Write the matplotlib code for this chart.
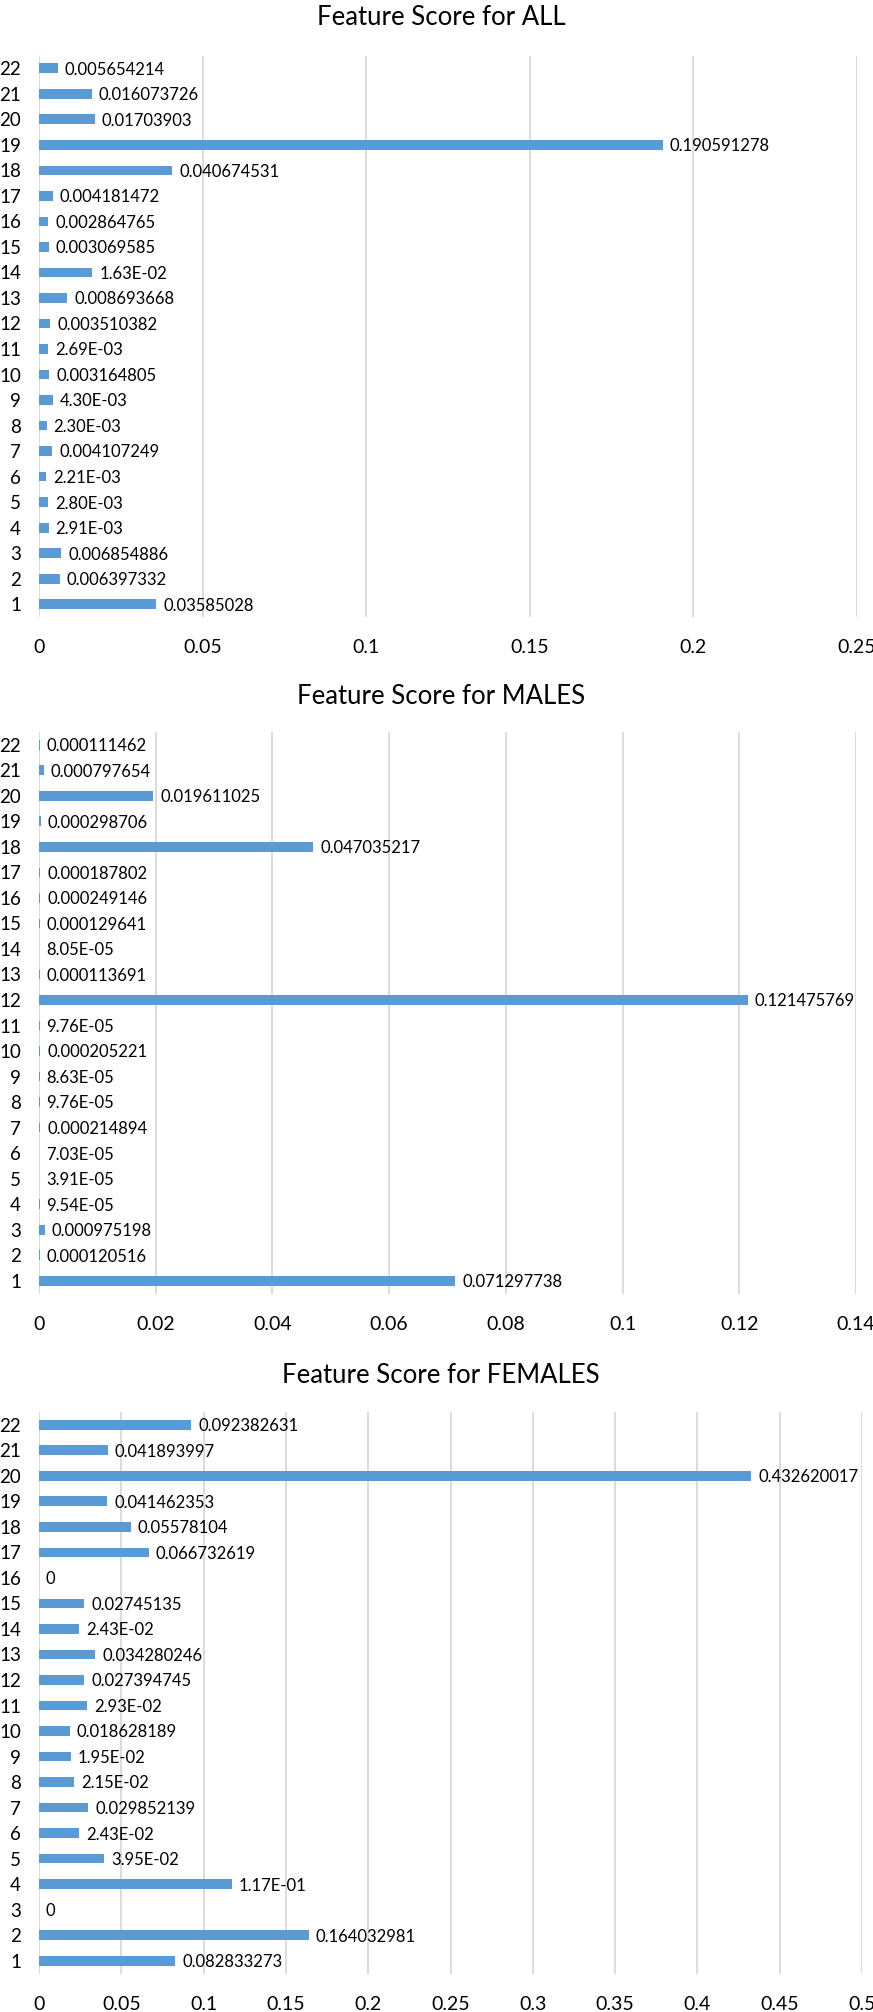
import matplotlib
matplotlib.use("Agg")
import matplotlib.pyplot as plt
from matplotlib.ticker import MultipleLocator, FuncFormatter

plt.rcParams['font.family'] = ['Lato', 'DejaVu Sans']

features = list(range(1, 23))

# data labels as printed on the chart (feature 1 .. 22)
all_labels = ["0.03585028", "0.006397332", "0.006854886", "2.91E-03", "2.80E-03",
              "2.21E-03", "0.004107249", "2.30E-03", "4.30E-03", "0.003164805",
              "2.69E-03", "0.003510382", "0.008693668", "1.63E-02", "0.003069585",
              "0.002864765", "0.004181472", "0.040674531", "0.190591278", "0.01703903",
              "0.016073726", "0.005654214"]
male_labels = ["0.071297738", "0.000120516", "0.000975198", "9.54E-05", "3.91E-05",
               "7.03E-05", "0.000214894", "9.76E-05", "8.63E-05", "0.000205221",
               "9.76E-05", "0.121475769", "0.000113691", "8.05E-05", "0.000129641",
               "0.000249146", "0.000187802", "0.047035217", "0.000298706", "0.019611025",
               "0.000797654", "0.000111462"]
female_labels = ["0.082833273", "0.164032981", "0", "1.17E-01", "3.95E-02",
                 "2.43E-02", "0.029852139", "2.15E-02", "1.95E-02", "0.018628189",
                 "2.93E-02", "0.027394745", "0.034280246", "2.43E-02", "0.02745135",
                 "0", "0.066732619", "0.05578104", "0.041462353", "0.432620017",
                 "0.041893997", "0.092382631"]

titles = ["Feature Score for ALL", "Feature Score for MALES", "Feature Score for FEMALES"]
x_max = [0.25, 0.14, 0.5]
x_step = [0.05, 0.02, 0.05]

BAR = "#5B9BD5"
GRID = "#D9D9D9"
W, H = 873, 2012

fig = plt.figure(figsize=(W / 100, H / 100), dpi=100)

# axes boxes in pixels: left, top, right, bottom ; title baseline
boxes = [(39, 55.5, 857, 617, 25),
         (39, 732, 856, 1293.5, 704),
         (39, 1412, 862, 1973.5, 1383)]

panels = [all_labels, male_labels, female_labels]

for labels, title, xm, step, (l, t, r, b, ty) in zip(panels, titles, x_max, x_step, boxes):
    vals = [float(s) for s in labels]
    ax = fig.add_axes([l / W, 1 - b / H, (r - l) / W, (b - t) / H])
    ax.barh(features, vals, height=0.38, color=BAR, zorder=2)
    for y, v, s in zip(features, vals, labels):
        ax.annotate(s, (v, y), xytext=(5, -1), textcoords="offset points",
                    va="center", ha="left", fontsize=12, color="#000000")
    ax.set_xlim(0, xm)
    ax.set_ylim(0.5, 22.5)
    ax.xaxis.set_major_locator(MultipleLocator(step))
    ax.xaxis.set_major_formatter(FuncFormatter(lambda x, p: "%g" % round(x, 4)))
    ax.set_yticks(features)
    ax.grid(axis="x", color=GRID, linewidth=1.3)
    ax.set_axisbelow(True)
    for sp in ax.spines.values():
        sp.set_visible(False)
    ax.tick_params(axis="x", length=0, pad=16, labelsize=14)
    ax.tick_params(axis="y", length=0, pad=13, labelsize=13.5)
    fig.text(441 / W, 1 - ty / H, title, ha="center", va="baseline", fontsize=18.5)

fig.savefig("out.png", dpi=100, facecolor="white")
